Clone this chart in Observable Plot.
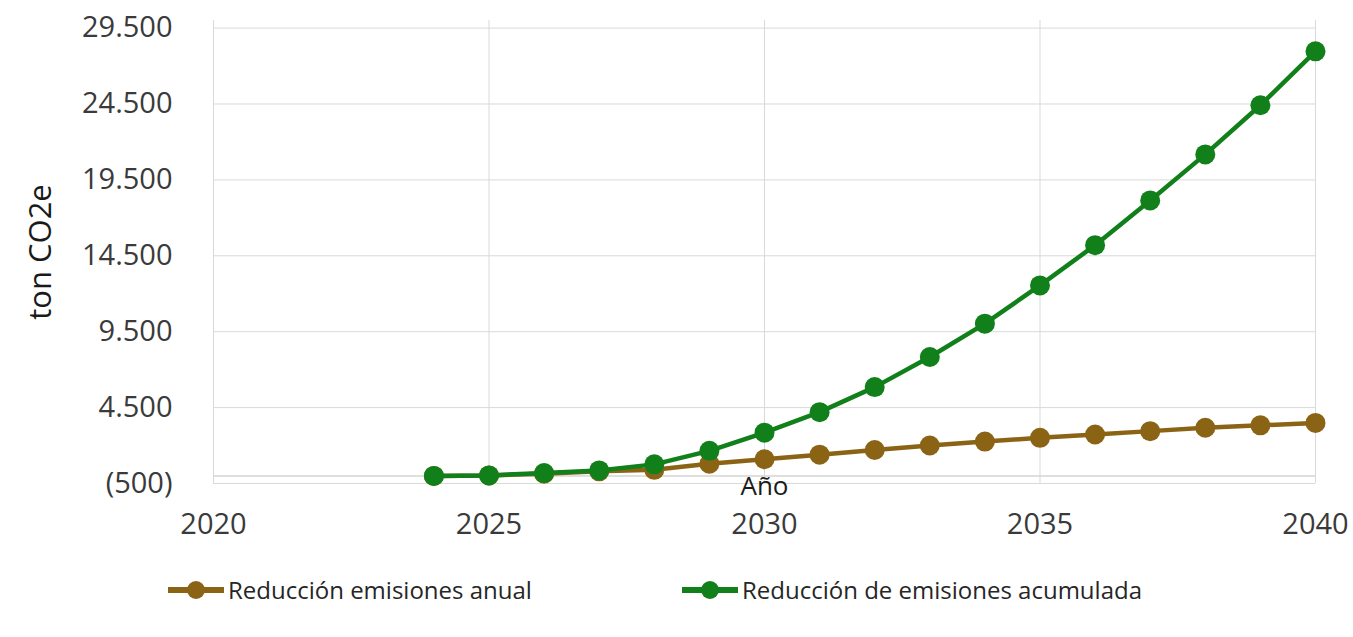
<!DOCTYPE html>
<html>
<head>
<meta charset="utf-8">
<script src="https://cdn.jsdelivr.net/npm/d3@7"></script>
<script src="https://cdn.jsdelivr.net/npm/@observablehq/plot@0.6"></script>
<style>
  html, body { margin: 0; padding: 0; background: #ffffff; }
  #wrap { position: relative; width: 1353px; height: 637px; font-family: "Open Sans", sans-serif; }
  #legend { position: relative; width: 1353px; height: 82px; }
  .item { position: absolute; top: 20px; height: 30px; display: flex; align-items: center; }
  .lab { font-size: 24px; color: #262626; white-space: nowrap; line-height: 30px; }
</style>
</head>
<body>
<div id="wrap">
  <div id="chart"></div>
  <div id="legend"></div>
</div>
<script>
// ---- data ----
const years = [2024, 2025, 2026, 2027, 2028, 2029, 2030, 2031, 2032, 2033, 2034, 2035, 2036, 2037, 2038, 2039, 2040];
const annual = [0, 30, 150, 300, 400, 800, 1100, 1400, 1710, 2000, 2260, 2510, 2730, 2950, 3170, 3330, 3490];
const cumulative = [0, 35, 185, 360, 760, 1650, 2850, 4200, 5850, 7830, 10030, 12550, 15200, 18150, 21180, 24420, 27970];
const seriesNames = ["Reducción emisiones anual", "Reducción de emisiones acumulada"];
const seriesColors = ["#8a6414", "#12801a"];
const xTicks = [2020, 2025, 2030, 2035, 2040];
const yTicks = [-500, 4500, 9500, 14500, 19500, 24500, 29500];
const yTitle = "ton CO2e";
const xTitle = "Año";

const loc = d3.formatLocale({decimal: ",", thousands: ".", grouping: [3], currency: ["", ""]});
const num = loc.format(",d");
const fmt = d => d < 0 ? `(${num(-d)})` : num(d);

const annualData = years.map((y, i) => ({year: y, value: annual[i]}));
const cumData = years.map((y, i) => ({year: y, value: cumulative[i]}));

const chart = Plot.plot({
  width: 1353,
  height: 555,
  marginLeft: 213,
  marginRight: 38,
  marginTop: 20,
  marginBottom: 72,
  style: {fontFamily: "Open Sans", fontSize: "29px", color: "#3a3a3a", background: "#ffffff"},
  x: {domain: [2020, 2040]},
  y: {domain: [-500, 30000]},
  marks: [
    Plot.gridX(xTicks, {stroke: "#d9d9d9", strokeOpacity: 1}),
    Plot.gridY(yTicks, {stroke: "#d9d9d9", strokeOpacity: 1}),
    Plot.ruleY([0], {stroke: "#d4d4d4", strokeWidth: 1.5}),
    Plot.axisX(xTicks, {tickSize: 0, tickPadding: 30, tickFormat: d => String(d), label: null, fontSize: 29}),
    Plot.axisY(yTicks, {tickSize: 0, tickPadding: 41, tickFormat: fmt, label: null, fontSize: 29}),
    Plot.line(annualData, {x: "year", y: "value", stroke: seriesColors[0], strokeWidth: 4.5}),
    Plot.dot(annualData, {x: "year", y: "value", r: 10, fill: seriesColors[0]}),
    Plot.line(cumData, {x: "year", y: "value", stroke: seriesColors[1], strokeWidth: 4.5}),
    Plot.dot(cumData, {x: "year", y: "value", r: 10, fill: seriesColors[1]}),
    Plot.text([yTitle], {text: d => d, frameAnchor: "left", textAnchor: "middle", dx: -172, rotate: -90, fontSize: 31, fill: "#1a1a1a"}),
    Plot.text([xTitle], {text: d => d, frameAnchor: "bottom", textAnchor: "middle", dy: 11, fontSize: 26, fill: "#1a1a1a"})
  ]
});
document.getElementById("chart").appendChild(chart);

// ---- legend ----
const legend = document.getElementById("legend");
const positions = [166, 680];
seriesNames.forEach((name, i) => {
  const item = document.createElement("div");
  item.className = "item";
  item.style.left = positions[i] + "px";
  item.innerHTML = `<svg width="60" height="30"><line x1="2" y1="15" x2="58" y2="15" stroke="${seriesColors[i]}" stroke-width="6"/><circle cx="30" cy="15" r="9" fill="${seriesColors[i]}"/></svg><span class="lab" style="margin-left:2px">${name}</span>`;
  legend.appendChild(item);
});
</script>
</body>
</html>
